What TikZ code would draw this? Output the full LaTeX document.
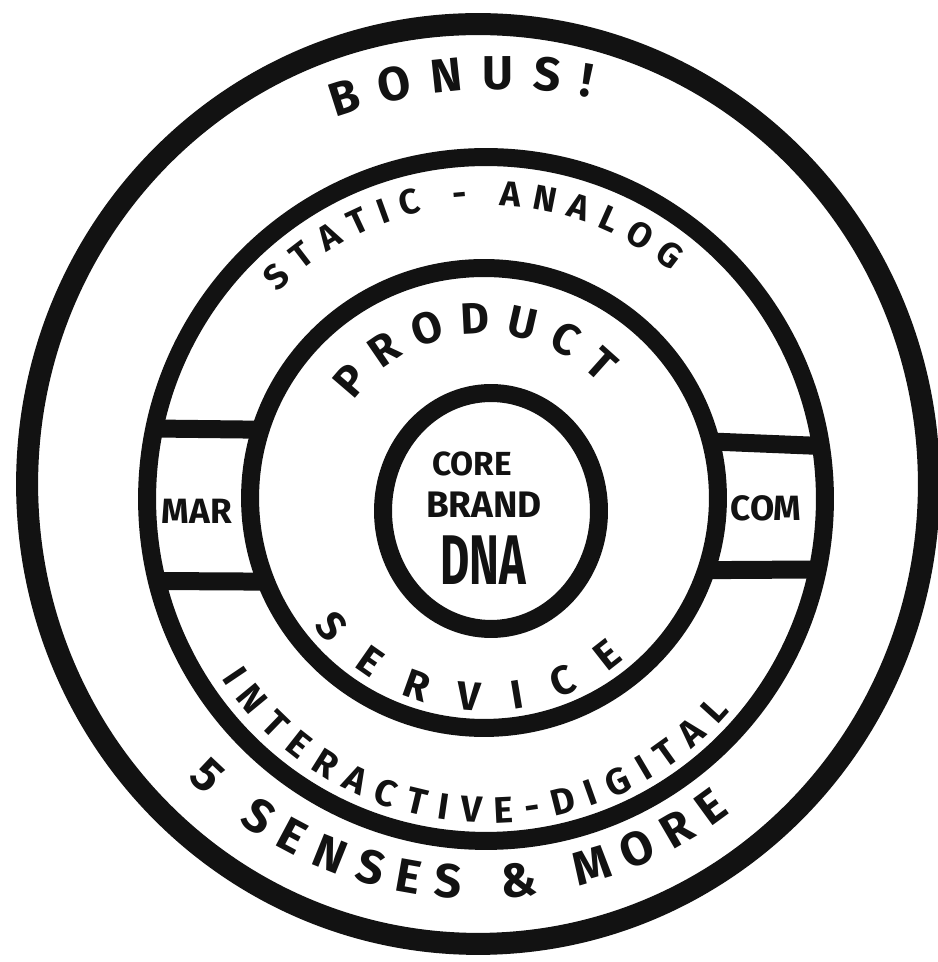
\documentclass[tikz,border=0pt]{standalone}
\usepackage{fontspec}
\setmainfont{Fira Sans}
\usetikzlibrary{shapes.geometric,decorations.text}
\definecolor{inkcol}{RGB}{18,18,18}

\begin{document}
\begin{tikzpicture}[
    x=0.02cm, y=0.02cm,
    ring/.style={ellipse, draw=inkcol, line width=0.36cm, inner sep=0pt, outer sep=0pt},
    bar/.style={draw=inkcol, line width=0.36cm},
    word/.style={font=\bfseries, text=inkcol, inner sep=0pt},
    arctext/.style 2 args={decorate, decoration={text along path, text color=inkcol, text={|\fontsize{#1}{#1}\selectfont\bfseries|#2}, text align={fit to path}}},
]
\useasboundingbox (0,0) rectangle (937,962);
\fill[white] (0,0) rectangle (937,962);

\node[ring, line width=0.44cm, minimum width=18.04cm, minimum height=18.4cm] (bonusring) at (478,478) {};
\node[ring, minimum width=13.56cm, minimum height=13.68cm] (mediaring) at (486,463) {};
\node[ring, minimum width=9.36cm, minimum height=9.2cm] (offerring) at (484,464) {};
\node[ring, minimum width=4.32cm, minimum height=4.72cm] (corering) at (491,451) {};

\draw[bar] (offerring.163) -- (mediaring.168);
\draw[bar] (offerring.201) -- (mediaring.194);
\draw[bar] (offerring.14) -- (mediaring.9.5);
\draw[bar] (offerring.342) -- (mediaring.348);

\node[word, font=\fontsize{20}{20}\selectfont\bfseries] (mar) at (197,451) {MAR};
\node[word, font=\fontsize{20}{20}\selectfont\bfseries] (com) at (766,454) {COM};
\node[word, font=\fontsize{19}{19}\selectfont\bfseries] (core) at (472,498) {CORE};
\node[word, font=\fontsize{21}{21}\selectfont\bfseries] (brand) at (484,457) {BRAND};
\node[word, font=\fontsize{40}{40}\selectfont\bfseries] (dna) at (483,402) {\scalebox{0.64}[1]{DNA}};

\path[arctext={27}{BONUS!}] ([shift={(500,380)}]109.5:493) arc[start angle=109.5, end angle=79.5, radius=493];
\path[arctext={20}{STATIC - ANALOG}] ([shift={(486,466)}]135.6:291) arc[start angle=135.6, end angle=50.4, radius=291];
\path[arctext={25}{PRODUCT}] ([shift={(484,467)}]144:161) arc[start angle=144, end angle=44, radius=161];
\path[arctext={23}{SERVICE}] ([shift={(484,464)}]217:213) arc[start angle=217, end angle=311, radius=213];
\path[arctext={21}{INTERACTIVE-DIGITAL}] ([shift={(488,457)}]213:318) arc[start angle=213, end angle=319.5, radius=318];
\path[arctext={27}{5 SENSES {\&} MORE}] ([shift={(478,474)}]225:411) arc[start angle=225, end angle=307.8, radius=411];
\end{tikzpicture}
\end{document}
